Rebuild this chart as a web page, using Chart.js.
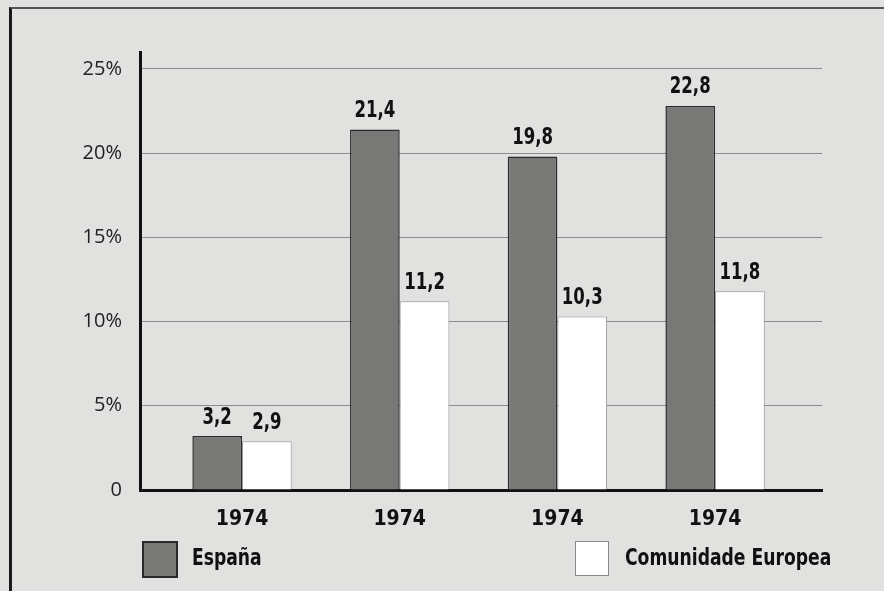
<!DOCTYPE html>
<html>
<head>
<meta charset="utf-8">
<script src="https://cdn.jsdelivr.net/npm/chart.js@4.4.1/dist/chart.umd.min.js"></script>
<style>
  html, body { margin: 0; padding: 0; background: #e1e1df; }
  #wrap { position: relative; width: 884px; height: 591px; overflow: hidden; background: #e1e1df; }
  #frame { position: absolute; left: 9px; top: 7px; width: 880px; height: 600px; border-left: 3px solid #1a1a1a; border-top: 2px solid #555; }
  canvas { position: absolute; left: 0; top: 0; }
  .leg { position: absolute; font-family: "DejaVu Sans Condensed", "Liberation Sans Narrow", sans-serif; font-weight: bold; font-size: 23px; color: #111; line-height: 35px; transform-origin: 0 50%; transform: scaleX(0.83); white-space: nowrap; }
  .box { position: absolute; width: 32px; height: 33px; }
</style>
</head>
<body>
<div id="wrap">
  <div id="frame"></div>
  <canvas id="c" width="884" height="591"></canvas>
  <div id="legend"></div>
</div>
<script>
const categories = ["1974", "1974", "1974", "1974"];
const seriesNames = ["España", "Comunidade Europea"];
const espana = [3.2, 21.4, 19.8, 22.8];
const comunidade = [2.9, 11.2, 10.3, 11.8];
const yTicks = [0, 5, 10, 15, 20, 25];

const FONT = '"DejaVu Sans Condensed", "Liberation Sans Narrow", sans-serif';

const toPoints = arr => arr.map((v, i) => ({ x: i + 1, y: v }));

// value labels above bars, horizontally condensed like the printed original
const valueLabels = {
  id: 'valueLabels',
  afterDatasetsDraw(chart) {
    const ctx = chart.ctx;
    chart.data.datasets.forEach((ds, di) => {
      chart.getDatasetMeta(di).data.forEach((bar, i) => {
        const v = ds.data[i].y;
        ctx.save();
        ctx.translate(bar.x, bar.y - 7);
        ctx.scale(0.8, 1);
        ctx.font = 'bold 23px ' + FONT;
        ctx.fillStyle = '#111';
        ctx.textAlign = 'center';
        ctx.textBaseline = 'bottom';
        ctx.fillText(v.toFixed(1).replace('.', ','), 0, 0);
        ctx.restore();
      });
    });
  }
};

const chart = new Chart(document.getElementById('c'), {
  type: 'bar',
  data: {
    datasets: [
      { label: seriesNames[0], data: toPoints(espana), backgroundColor: '#787876', borderColor: '#2a2a2a', borderWidth: 1.5, borderSkipped: 'bottom' },
      { label: seriesNames[1], data: toPoints(comunidade), backgroundColor: '#ffffff', borderColor: '#9a9a9a', borderWidth: 1, borderSkipped: 'bottom' }
    ]
  },
  options: {
    responsive: false,
    animation: false,
    layout: { padding: { top: 52, right: 62, left: 0, bottom: 0 } },
    categoryPercentage: 0.63,
    barPercentage: 1.0,
    plugins: { legend: { display: false }, tooltip: { enabled: false } },
    scales: {
      x: {
        type: 'linear',
        offset: false,
        min: 0.353,
        max: 4.678,
        afterBuildTicks: s => { s.ticks = categories.map((_, i) => ({ value: i + 1 })); },
        afterFit: s => { s.height = 101; },
        grid: { display: false, drawTicks: false, offset: false },
        border: { display: true, color: '#111', width: 3 },
        ticks: {
          padding: 17,
          autoSkip: false,
          maxRotation: 0,
          color: '#111',
          font: { family: FONT, weight: 'bold', size: 21 },
          callback: v => categories[v - 1] ?? ''
        }
      },
      y: {
        min: 0,
        max: 26,
        afterBuildTicks: s => { s.ticks = yTicks.map(v => ({ value: v })); },
        afterFit: s => { s.width = 140; },
        grid: { color: '#8c8c8c', lineWidth: 1, drawTicks: false },
        border: { display: true, color: '#111', width: 3 },
        ticks: {
          padding: 18,
          color: '#222',
          font: { family: '"Open Sans", "DejaVu Sans", sans-serif', size: 20 },
          callback: v => v === 0 ? '0' : v + '%'
        }
      }
    }
  },
  plugins: [valueLabels]
});

// HTML legend built from the dataset definitions
const legendPos = [{ box: 142, text: 192 }, { box: 575, text: 625 }];
const legendEl = document.getElementById('legend');
chart.data.datasets.forEach((ds, i) => {
  const b = document.createElement('div');
  b.className = 'box';
  b.style.left = legendPos[i].box + 'px';
  b.style.top = '541px';
  b.style.background = ds.backgroundColor;
  b.style.border = (i === 0 ? '2px solid #2a2a2a' : '1px solid #8a8a8a');
  legendEl.appendChild(b);
  const t = document.createElement('div');
  t.className = 'leg';
  t.style.left = legendPos[i].text + 'px';
  t.style.top = '540px';
  t.textContent = ds.label;
  legendEl.appendChild(t);
});
</script>
</body>
</html>
